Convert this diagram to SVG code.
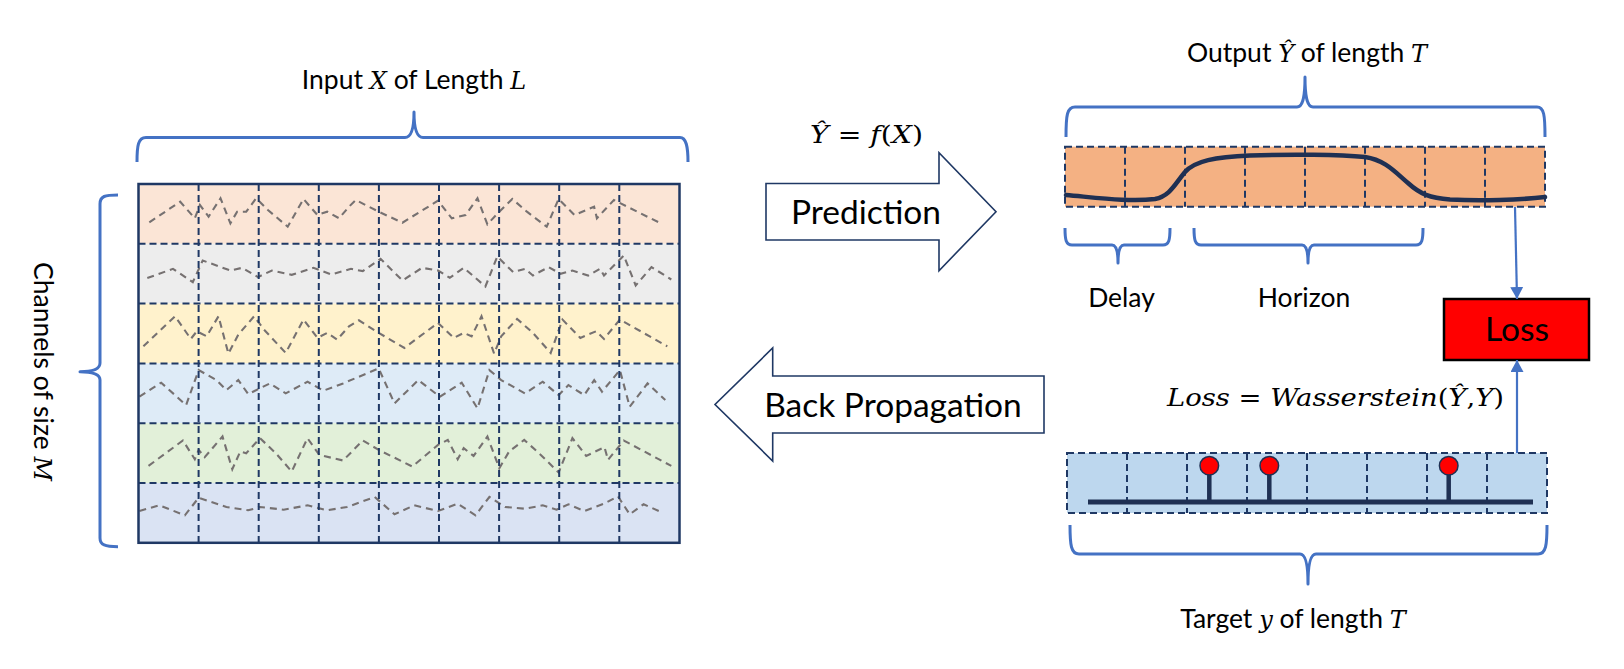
<svg xmlns="http://www.w3.org/2000/svg" width="1624" height="669" viewBox="0 0 1624 669">
<style>
.lbl{font-family:Lato,"Open Sans","Liberation Sans",sans-serif;fill:#000}
.m{font-family:"DejaVu Serif","Liberation Serif",serif;font-style:italic}
.u{font-family:"DejaVu Serif","Liberation Serif",serif;font-style:normal}
.brace{fill:none;stroke:#4472c4;stroke-width:3;stroke-linejoin:round}
.dash{stroke:#1f3864;stroke-width:2;stroke-dasharray:7 4;fill:none}
.zig{fill:none;stroke:#767171;stroke-width:2.1;stroke-dasharray:7 5}
.blk{fill:#fff;stroke:#1f3864;stroke-width:1.6}
.conn{stroke:#4472c4;stroke-width:2.2;fill:none}
</style>
<defs>
<marker id="ah" markerUnits="userSpaceOnUse" markerWidth="13" markerHeight="13" refX="12" refY="6.5" orient="auto">
<path d="M0,0 L12,6.5 L0,13 z" fill="#4472c4"/>
</marker>
</defs>
<rect width="1624" height="669" fill="#fff"/>

<g id="input-grid">
<rect x="138.5" y="184" width="541" height="59.8" fill="#fbe5d6"/>
<rect x="138.5" y="243.8" width="541" height="59.8" fill="#ededed"/>
<rect x="138.5" y="303.6" width="541" height="59.8" fill="#fff2cc"/>
<rect x="138.5" y="363.4" width="541" height="59.8" fill="#deebf7"/>
<rect x="138.5" y="423.2" width="541" height="59.8" fill="#e2f0d9"/>
<rect x="138.5" y="483" width="541" height="59.8" fill="#dae3f3"/>
<polyline class="zig" points="149.3,222.3 180.2,201.7 194.8,218.3 199.9,205 208.6,216.7 220.5,198.3 230.4,223.3 237.1,211.7 246.2,211.7 256.1,198.3 267.9,210 287.7,226.7 303.5,199 317.4,215 327.2,211.7 339.1,218.3 349,206.7 355.7,200 378.7,211.7 402.4,222.7 438,200.7 451.8,218.3 465.6,215 477.5,198.3 487.4,224.3 499.3,211.7 512.3,199 526.9,211.7 546.7,226.7 558.6,199 574.4,215 594.1,206.7 596.9,218.3 613.9,200 659.4,222.7"/>
<polyline class="zig" points="147.3,278.1 173,268.8 192.8,282.1 202.7,260.5 230.4,270.5 242.2,267.8 258,277.1 271.9,270.5 291.7,274.8 313.4,267.8 331.2,274.5 351,268.8 362.8,271.1 380.6,258.8 402.4,280.5 422.1,267.8 438,270.5 449.8,277.8 463.7,267.8 485.4,286.5 497.3,256.5 513.1,272.1 525,268.8 532.9,275.5 548.7,267.1 560.5,273.8 572.4,270.5 588.2,275.5 600.1,268.8 604,275.5 623.8,255.5 635.7,285.5 651.5,267.1 671.3,279.5"/>
<polyline class="zig" points="143.4,346.3 175,316.3 190.8,338.9 196.8,331.3 206.6,336.3 218.5,316.3 228.4,353.6 238.3,334.6 254.1,316.3 264,329.6 285.7,352.9 303.5,319.6 317.4,337.9 327.2,332.9 337.1,339.6 349,326.3 358.9,320.3 378.7,332.9 404.4,347.9 438,322.9 453.8,337.9 463.7,332.9 471.6,336.3 481.5,316.3 494.1,353.6 501.2,336.3 517.1,318.9 532.9,332.9 550.7,352.9 562.5,319.6 580.3,337.9 596.1,331.3 604,338.9 619.9,319.6 667.3,346.3"/>
<polyline class="zig" points="139.4,396.7 161.2,382.7 186.1,405.1 198.7,370.1 216.5,380.1 226.4,390.1 238.3,380.1 248.2,394.1 269.9,383.4 285.7,393.4 307.5,381.7 323.3,390.7 343.1,383.4 378.7,368.4 394.5,403.4 418.2,380.1 439.9,396.7 461.7,382.7 477.5,408.4 489.4,370.1 501.2,380.1 525,393.4 542.7,381.7 558.6,395.1 568.4,385.1 584.3,395.1 594.2,380.1 602,391.7 619.9,370.1 629.7,406.7 647.5,383.4 665.3,400.1"/>
<polyline class="zig" points="148.5,465.9 182.9,440.5 194.8,459.2 198.7,449.9 204.7,457.2 222.5,436.5 232.3,469.2 240.3,451.5 246.2,453.2 260,438.2 275.8,453.2 291.7,471.5 307.5,438.2 319.3,454.9 343.1,460.5 362.8,440.5 378.7,449.9 412.3,466.5 438,444.9 447.8,439.9 457.7,459.2 463.7,448.2 473.6,455.9 487.4,436.5 499.3,468.2 509.1,451.5 524.2,439.9 540.8,454.9 558.6,472.5 572.4,438.2 586.2,455.9 604.5,447.2 608,459.9 623.8,440.5 671.3,465.9"/>
<polyline class="zig" points="139.4,511 159.2,505.3 184.9,515.3 198.7,497.7 226.4,507 248.2,510.3 260,507 283.7,509.7 307.5,505.3 327.2,510.3 347,507 374.7,497 394.5,514.3 414.2,505.3 438,511 457.7,503.7 475.5,515.3 489.4,497 505.2,507 525,508.7 542.7,505.3 556.6,509.7 568.4,504.3 584.3,511 604,503.7 617.9,496.3 629.7,514.3 643.6,504.3 663.3,513"/>
<path class="dash" d="M138.5,243.8H679.5M138.5,303.6H679.5M138.5,363.4H679.5M138.5,423.2H679.5M138.5,483H679.5M198.6,184V542.8M258.7,184V542.8M318.8,184V542.8M378.9,184V542.8M439,184V542.8M499.1,184V542.8M559.2,184V542.8M619.3,184V542.8"/>
<rect x="138.5" y="184" width="541" height="358.8" fill="none" stroke="#1f3864" stroke-width="2.5"/>
</g>

<g id="input-brace">
<path class="brace" d="M137,162 C137,146 138,137.5 146,137.5 L405,137.5 C411,137.5 414,130 414,112 C414,130 417,137.5 423,137.5 L680,137.5 C686,137.5 688,146 688,162"/>
<text class="lbl" x="414" y="89" font-size="26.5" text-anchor="middle">Input <tspan class="m" font-size="24">X</tspan> of Length <tspan class="m" font-size="24">L</tspan></text>
</g>

<g id="channels-brace">
<path class="brace" d="M118,195 C105,195 100,196 100,204 L100,363 C100,368 94,371.7 80,371.7 C94,371.7 100,375 100,380 L100,538 C100,545 105,546.7 118,546.7"/>
<text class="lbl" font-size="26.5" text-anchor="middle" transform="translate(34,371.5) rotate(90)">Channels of size <tspan class="m" font-size="24">M</tspan></text>
</g>

<g id="prediction">
<path class="blk" d="M766,183.5 H939 V152.7 L996,211.7 L939,270.7 V240 H766 Z"/>
<text class="lbl" x="866" y="223.5" font-size="33.5" text-anchor="middle">Prediction</text>
<text x="810" y="143" font-size="23.5" textLength="113" lengthAdjust="spacingAndGlyphs"><tspan class="m">Ŷ</tspan><tspan class="u"> = </tspan><tspan class="m">f</tspan><tspan class="u">(</tspan><tspan class="m">X</tspan><tspan class="u">)</tspan></text>
</g>

<g id="backprop">
<path class="blk" d="M1044,376 H772.7 V348 L715,404.5 L772.7,461 V433 H1044 Z"/>
<text class="lbl" x="893" y="416.5" font-size="33.5" text-anchor="middle">Back Propagation</text>
</g>

<g id="output">
<path class="brace" d="M1066,137 C1066,115 1067,107 1075,107 L1297,107 C1302,107 1305,100 1305,77 C1305,100 1308,107 1313,107 L1537,107 C1544,107 1545,115 1545,137"/>
<text class="lbl" x="1307" y="62" font-size="26.5" text-anchor="middle">Output <tspan class="m" font-size="24">Ŷ</tspan> of length <tspan class="m" font-size="24">T</tspan></text>
<rect x="1065" y="146.7" width="480" height="60" fill="#f4b183"/>
<path class="dash" d="M1125,146.7V206.7M1185,146.7V206.7M1245,146.7V206.7M1305,146.7V206.7M1365,146.7V206.7M1425,146.7V206.7M1485,146.7V206.7"/>
<rect class="dash" x="1065" y="146.7" width="480" height="60"/>
<path d="M1066,195 C1100,198 1130,202 1155,199 C1170,196 1175,184 1185,172 C1195,161 1215,157 1250,155.5 C1290,154 1340,154.5 1365,157 C1385,160 1395,172 1408,183 C1420,194 1430,198 1450,199.5 C1480,201 1520,200 1545,197" fill="none" stroke="#1f3053" stroke-width="4.5" stroke-linecap="round"/>
</g>

<g id="delay">
<path class="brace" d="M1065,228 C1065,240 1066,245 1072,245 L1112,245 C1116,245 1118,250 1118,263 C1118,250 1120,245 1124,245 L1163,245 C1169,245 1170,240 1170,228"/>
<text class="lbl" x="1121.5" y="306.5" font-size="26.5" text-anchor="middle">Delay</text>
</g>

<g id="horizon">
<path class="brace" d="M1194,228 C1194,240 1195,245 1201,245 L1302,245 C1306,245 1308,250 1308,263 C1308,250 1310,245 1314,245 L1416,245 C1422,245 1423,240 1423,228"/>
<text class="lbl" x="1304" y="306.5" font-size="26.5" text-anchor="middle">Horizon</text>
</g>

<g id="loss">
<rect x="1444" y="299" width="145" height="61" fill="#ff0000" stroke="#000" stroke-width="2.5"/>
<text class="lbl" x="1517" y="340.5" font-size="33.5" text-anchor="middle">Loss</text>
</g>

<g id="loss-formula">
<text x="1167" y="406" font-size="24.5" textLength="337" lengthAdjust="spacingAndGlyphs"><tspan class="m">Loss</tspan><tspan class="u"> =  </tspan><tspan class="m">Wasserstein</tspan><tspan class="u">(</tspan><tspan class="m">Ŷ</tspan><tspan class="u">,</tspan><tspan class="m">Y</tspan><tspan class="u">)</tspan></text>
</g>

<g id="target">
<rect x="1067" y="453" width="480" height="60" fill="#bdd7ee"/>
<path class="dash" d="M1127,453V513M1187,453V513M1247,453V513M1307,453V513M1367,453V513M1427,453V513M1487,453V513"/>
<rect class="dash" x="1067" y="453" width="480" height="60"/>
<line x1="1088" y1="502" x2="1533" y2="502" stroke="#1f3053" stroke-width="5"/>
<g stroke="#1f3053" stroke-width="4.5">
<line x1="1209.3" y1="470" x2="1209.3" y2="501"/>
<line x1="1269.3" y1="470" x2="1269.3" y2="501"/>
<line x1="1448.7" y1="470" x2="1448.7" y2="501"/>
</g>
<g fill="#ff0000" stroke="#1f3053" stroke-width="1.5">
<circle cx="1209.3" cy="465.7" r="9.3"/>
<circle cx="1269.3" cy="465.7" r="9.3"/>
<circle cx="1448.7" cy="465.7" r="9.3"/>
</g>
<path class="brace" d="M1070,525 C1070,545 1071,554 1079,554 L1300,554 C1305,554 1308,562 1308,584 C1308,562 1311,554 1316,554 L1538,554 C1546,554 1547,545 1547,525"/>
<text class="lbl" x="1293" y="628" font-size="26.5" text-anchor="middle">Target <tspan class="m" font-size="24">y</tspan> of length <tspan class="m" font-size="24">T</tspan></text>
</g>

<g id="connectors">
<line class="conn" x1="1515" y1="207" x2="1517" y2="299" marker-end="url(#ah)"/>
<line class="conn" x1="1517" y1="453" x2="1517" y2="360" marker-end="url(#ah)"/>
</g>
</svg>
